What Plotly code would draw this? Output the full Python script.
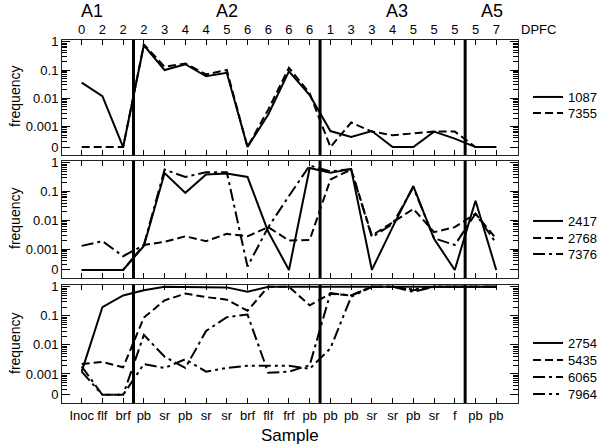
import numpy as np
import plotly.graph_objects as go

categories = ["Inoc", "flf", "brf", "pb", "sr", "pb", "sr", "sr", "brf", "flf", "frf",
              "pb", "pb", "pb", "sr", "sr", "pb", "sr", "f", "pb", "pb"]
dpfc = ["0", "2", "2", "2", "3", "4", "4", "5", "6", "6", "6", "6",
        "1", "3", "3", "4", "5", "5", "5", "5", "7"]
groups = ["A1", "A2", "A3", "A5"]
group_pos = [0.5, 7, 15.2, 19.8]
boundaries = [2.5, 11.5, 18.5]

# panel 1
s1087 = [0.036, 0.012, 0, 0.75, 0.10, 0.16, 0.06, 0.08, 0, 0.0027, 0.09, 0.013,
         0.0007, 0.00043, 0.0007, 0, 0, 0.00067, 0.00038, 0, 0]
s7355 = [0, 0, 0, 0.8, 0.13, 0.17, 0.07, 0.10, 0, 0.004, 0.12, 0.015,
         0, 0.0014, 0.00067, 0.0005, 0.00057, 0.00067, 0.00067, 0, 0]
# panel 2
s2417 = [0, 0, 0, 0.0013, 0.44, 0.09, 0.39, 0.42, 0.32, 0.004, 0, 0.66,
         0.45, 0.6, 0, 0.0058, 0.155, 0.0023, 0, 0.048, 0]
s2768 = [0, 0, 0, 0.0014, 0.0018, 0.0028, 0.0019, 0.0034, 0.0028, 0.0058, 0.002, 0.0021,
         0.26, 0.58, 0.003, 0.0085, 0.025, 0.0039, 0.0058, 0.017, 0.0023]
s7376 = [0.0013, 0.0019, 0.00057, 0.0014, 0.58, 0.32, 0.47, 0.47, 0.00025, 0.0058, 0.07, 0.8,
         0.5, 0.6, 0.0026, 0.0075, 0.14, 0.0024, 0.0014, 0.017, 0.0016]
# panel 3
s2754 = [0.0012, 0.2, 0.5, 0.76, 1, 1, 1, 0.95, 0.67, 1, 1, 1,
         0.95, 1, 1, 1, 1, 1, 1, 1, 1]
s5435 = [0.0022, 0.0026, 0.0017, 0.087, 0.34, 0.58, 0.44, 0.36, 0.15, 1, 1, 0.23,
         0.58, 0.5, 1, 1, 0.76, 1, 1, 1, 1]
s6065 = [0.0018, 0, 0, 0.022, 0.0039, 0.0016, 0.03, 0.09, 0.11, 0.0011, 0.0012, 0.002,
         0.6, 0.5, 1, 1, 0.67, 1, 1, 1, 1]
s7964 = [0.0012, 0, 0, 0.0022, 0.0016, 0.0032, 0.0012, 0.0016, 0.0019, 0.0019, 0.0019, 0.0015,
         0.0076, 0.45, 1, 1, 0.8, 1, 1, 1, 1]

ZERO = 10 ** -3.72
FONT = "Liberation Sans, Arial, sans-serif"
x = list(range(len(categories)))


def tr(v):
    return [a if a > 0 else ZERO for a in v]


D_SOLID = "solid"
D_DASH = "8px,4px"
D_DASHDOT = "12px,4px,3px,4px"
D_DDD = "12px,4px,3px,4px,3px,4px"

H_TOP, H_BOT = 40, 403


def py(p):
    return (H_BOT - p) / (H_BOT - H_TOP)


def dom(top, bot):
    return [py(bot), py(top)]


# (y axis, x axis, [(name, values, dash, legend pixel y)])
panels = [
    ("y", "x", [("1087", s1087, D_SOLID, 97), ("7355", s7355, D_DASH, 113)]),
    ("y2", "x2", [("2417", s2417, D_SOLID, 221), ("2768", s2768, D_DASH, 238),
                  ("7376", s7376, D_DASHDOT, 254)]),
    ("y3", "x3", [("2754", s2754, D_SOLID, 343), ("5435", s5435, D_DASH, 360),
                  ("6065", s6065, D_DASHDOT, 377), ("7964", s7964, D_DDD, 394)]),
]

fig = go.Figure()
legends = {}
k = 0
for ya, xa, series in panels:
    for name, vals, dash, ly in series:
        k += 1
        lg = "legend" if k == 1 else "legend%d" % k
        fig.add_trace(go.Scatter(x=x, y=tr(vals), xaxis=xa, yaxis=ya, name=name, mode="lines",
                                 line=dict(color="black", width=2, dash=dash), legend=lg))
        legends[lg] = dict(x=1.022, xanchor="left", y=py(ly), yanchor="middle",
                           bgcolor="rgba(0,0,0,0)", itemwidth=30,
                           font=dict(size=13, family=FONT, color="black"))

minor_vals = [k * 10 ** n for n in range(-4, 0) for k in range(2, 10) if k * 10 ** n > ZERO * 1.4]
yax = dict(type="log", range=[-4.0, 0.06], tickmode="array", automargin=False,
           tickvals=[ZERO, 1e-3, 1e-2, 0.1, 1], ticktext=["0", "0.001", "0.01", "0.1", "1"],
           ticks="inside", ticklen=8, tickcolor="black", showline=True, linecolor="#222",
           linewidth=1, mirror="allticks", showgrid=False, zeroline=False,
           tickfont=dict(size=13, color="black", family=FONT),
           minor=dict(tickmode="array", tickvals=minor_vals, ticks="inside", ticklen=5,
                      tickcolor="black", showgrid=False))
xax = dict(range=[-0.95, 21.05], tickmode="array", tickvals=x, ticks="inside", ticklen=5,
           tickcolor="black", showline=True, linecolor="#222", linewidth=1, mirror="allticks",
           showgrid=False, zeroline=False, automargin=False,
           tickfont=dict(size=13, color="black", family=FONT))

fig.update_layout(
    width=600, height=445, margin=dict(l=62, r=82, t=40, b=42, autoexpand=False),
    paper_bgcolor="white", plot_bgcolor="white", showlegend=True,
    font=dict(family=FONT, color="black", size=13),
    xaxis=dict(xax, anchor="y", side="top", ticktext=dpfc),
    xaxis2=dict(xax, anchor="y2", matches="x", showticklabels=False),
    xaxis3=dict(xax, anchor="y3", matches="x", ticktext=categories),
    yaxis=dict(yax, domain=dom(40, 155), anchor="x"),
    yaxis2=dict(yax, domain=dom(161, 278), anchor="x2"),
    yaxis3=dict(yax, domain=dom(285, 403), anchor="x3"),
)
fig.update_layout(**legends)

# group boundaries
for ya in ["y", "y2", "y3"]:
    for b in boundaries:
        fig.add_shape(type="line", x0=b, x1=b, xref="x", y0=0, y1=1, yref=ya + " domain",
                      line=dict(color="black", width=3))

anns = []
for g, p in zip(groups, group_pos):
    anns.append(dict(text=g, x=p, xref="x", y=py(11), yref="paper", yanchor="middle",
                     xanchor="center", showarrow=False,
                     font=dict(size=18, family=FONT, color="black")))
anns.append(dict(text="DPFC", x=1.0, xref="paper", xanchor="left", xshift=1,
                 y=py(29), yref="paper", yanchor="middle", showarrow=False,
                 font=dict(size=13, family=FONT, color="black")))
anns.append(dict(text="Sample", x=0.5, xref="paper", xanchor="center", y=py(435),
                 yref="paper", yanchor="middle", showarrow=False,
                 font=dict(size=17, family=FONT, color="black")))
for yc in [97, 219, 344]:
    anns.append(dict(text="frequency", textangle=-90, x=(15 - 62) / 456, xref="paper",
                     xanchor="center", yanchor="middle", y=py(yc), yref="paper",
                     showarrow=False, font=dict(size=14, family=FONT, color="black")))
fig.update_layout(annotations=anns)

fig.write_html("out.html", config={"displayModeBar": False},
               post_script="document.body.style.margin='0';document.body.style.overflow='hidden';")
